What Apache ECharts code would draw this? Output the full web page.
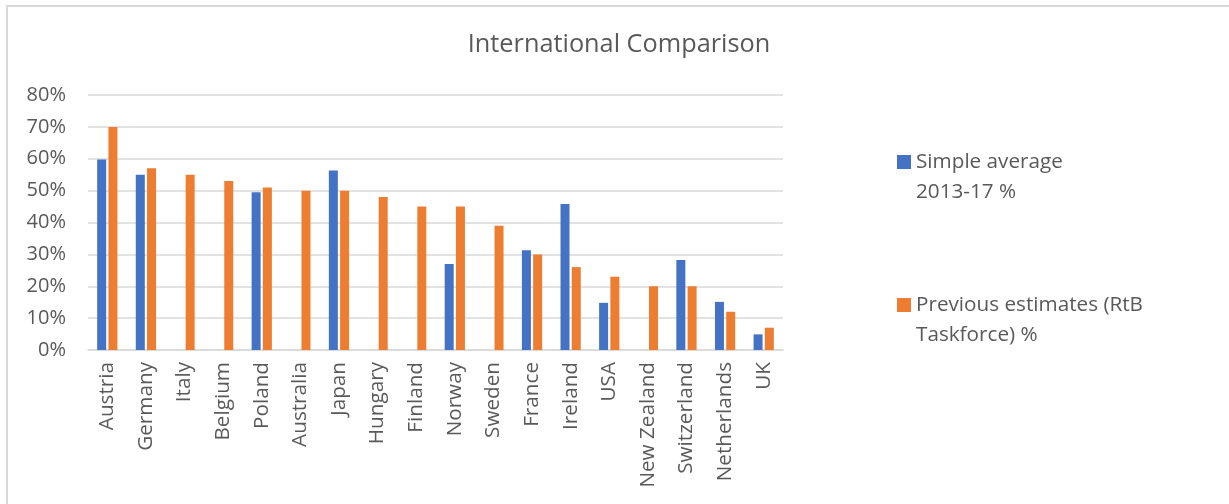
<!DOCTYPE html>
<html>
<head>
<meta charset="utf-8">
<script src="https://cdn.jsdelivr.net/npm/echarts@6/dist/echarts.min.js"></script>
<style>
  html, body { margin: 0; padding: 0; background: #fff; }
  #frame { position: absolute; left: 6px; top: 5px; width: 1400px; height: 700px;
           border-left: 2px solid #d9d9d9; border-top: 2px solid #d9d9d9; }
  #chart { position: absolute; left: 0; top: 0; width: 1229px; height: 504px; }
</style>
</head>
<body>
<div id="frame"></div>
<div id="chart"></div>
<script>
// countries, in the order shown
var countries = ['Austria', 'Germany', 'Italy', 'Belgium', 'Poland', 'Australia', 'Japan', 'Hungary',
  'Finland', 'Norway', 'Sweden', 'France', 'Ireland', 'USA', 'New Zealand', 'Switzerland',
  'Netherlands', 'UK'];

// Simple average 2013-17 % (null = no bar)
var simpleAverage = [59.8, 55, null, null, 49.5, null, 56.3, null,
  null, 27, null, 31.3, 45.8, 14.8, null, 28.2, 15.1, 4.9];

// Previous estimates (RtB Taskforce) %
var previousEstimates = [70, 57, 55, 53, 51, 50, 50, 48,
  45, 45, 39, 30, 26, 23, 20, 20, 12, 7];

var yTicks = [0, 10, 20, 30, 40, 50, 60, 70, 80];

var seriesNames = ['Simple average 2013-17 %', 'Previous estimates (RtB Taskforce) %'];
// leading blank line so the square lines up with the first text line
var legendText = {
  'Simple average 2013-17 %': ' \nSimple average\n2013-17 %',
  'Previous estimates (RtB Taskforce) %': ' \nPrevious estimates (RtB\nTaskforce) %'
};

var font = '"Open Sans", sans-serif';
var grey = '#595959';

var chart = echarts.init(document.getElementById('chart'));

var option = {
  animation: false,
  title: {
    text: 'International Comparison',
    left: 619,
    top: 32,
    padding: 0,
    textAlign: 'center',
    textStyle: { fontFamily: font, fontSize: 25.3, fontWeight: 'normal', color: grey }
  },
  legend: {
    data: seriesNames,
    orient: 'vertical',
    left: 897,
    top: 117,
    padding: 0,
    itemWidth: 14,
    itemHeight: 14,
    itemGap: 53,
    icon: 'rect',
    formatter: function (name) { return legendText[name]; },
    textStyle: { fontFamily: font, fontSize: 20.7, color: grey, lineHeight: 30 }
  },
  grid: { left: 88, right: 446, top: 95, bottom: 154, containLabel: false },
  xAxis: {
    type: 'category',
    data: countries,
    axisLine: { lineStyle: { color: '#d9d9d9', width: 1.5 } },
    axisTick: { show: false },
    axisLabel: {
      rotate: 90, interval: 0, margin: 12,
      fontFamily: font, fontSize: 20.7, color: grey
    }
  },
  yAxis: {
    type: 'value',
    min: yTicks[0],
    max: yTicks[yTicks.length - 1],
    interval: 10,
    axisLine: { show: false },
    axisTick: { show: false },
    splitLine: { lineStyle: { color: '#d9d9d9', width: 1.5 } },
    axisLabel: {
      margin: 22,
      fontFamily: font, fontSize: 20, color: grey,
      formatter: function (v) { return v + '%'; }
    }
  },
  series: [
    {
      name: seriesNames[0],
      type: 'bar',
      data: simpleAverage,
      barWidth: 9,
      barGap: '25%',
      itemStyle: { color: '#4472C4' }
    },
    {
      name: seriesNames[1],
      type: 'bar',
      data: previousEstimates,
      barWidth: 9,
      barGap: '25%',
      itemStyle: { color: '#ED7D31' }
    }
  ]
};

chart.setOption(option);
</script>
</body>
</html>
